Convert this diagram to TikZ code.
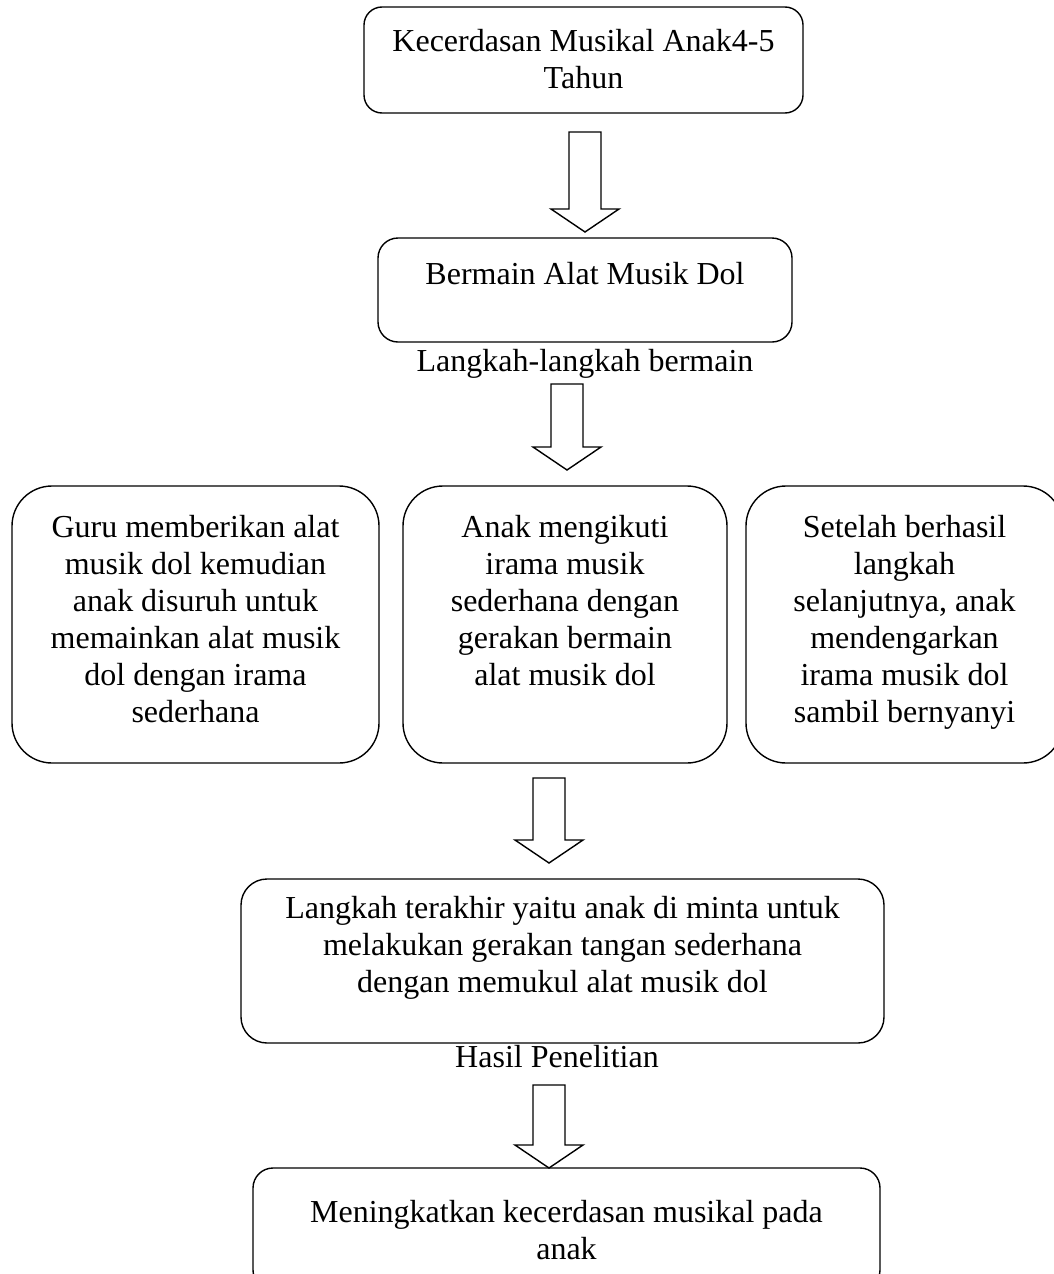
\documentclass[tikz,border=0pt]{standalone}
\usepackage{fontspec}
\setmainfont{Liberation Serif}
\usetikzlibrary{calc}
\newcommand{\isi}[3]{\parbox[c][#1][t]{#2}{\centering\strut #3}}
\newcommand{\panah}[2]{%
  \draw[garis] let \p1=(#1), \p2=(#2) in
    (\x1-16pt,\y1) -- (\x1+16pt,\y1) -- (\x1+16pt,\y2+23pt) -- (\x1+34pt,\y2+23pt)
    -- (\x2,\y2) -- (\x1-34pt,\y2+23pt) -- (\x1-16pt,\y2+23pt) -- cycle;}
\begin{document}
\begin{tikzpicture}[x=1pt,y=-1pt,
	kotak/.style={draw,line width=1.4pt,inner sep=0pt,font=\fontsize{32}{37}\selectfont},
	teks/.style={inner sep=0pt,font=\fontsize{32}{37}\selectfont},
	garis/.style={line width=1.4pt,line join=miter}]
\useasboundingbox (0,0) rectangle (1054,1274);
\node[kotak,rounded corners=18pt,minimum width=439pt,minimum height=106pt] (judul) at (583.5,60)
	{\isi{68pt}{430pt}{Kecerdasan Musikal Anak4-5\\Tahun}};
\node[kotak,rounded corners=20pt,minimum width=414pt,minimum height=104pt] (bermain) at (585,290)
	{\isi{62pt}{400pt}{Bermain Alat Musik Dol}};
\node[teks] (langkah) at (585,364) {Langkah-langkah bermain};
\node[kotak,rounded corners=40pt,minimum width=367pt,minimum height=277pt] (guru) at (195.5,624.5)
	{\isi{225pt}{350pt}{Guru memberikan alat\\musik dol kemudian\\anak disuruh untuk\\memainkan alat musik\\dol dengan irama\\sederhana}};
\node[kotak,rounded corners=40pt,minimum width=324pt,minimum height=277pt] (anak) at (565,624.5)
	{\isi{225pt}{310pt}{Anak mengikuti\\irama musik\\sederhana dengan\\gerakan bermain\\alat musik dol}};
\node[kotak,rounded corners=40pt,minimum width=317pt,minimum height=277pt] (setelah) at (904.5,624.5)
	{\isi{225pt}{300pt}{Setelah berhasil\\langkah\\selanjutnya, anak\\mendengarkan\\irama musik dol\\sambil bernyanyi}};
\node[kotak,rounded corners=26pt,minimum width=643pt,minimum height=164pt] (terakhir) at (562.5,961)
	{\isi{136pt}{630pt}{Langkah terakhir yaitu anak di minta untuk\\melakukan gerakan tangan sederhana\\dengan memukul alat musik dol}};
\node[teks] (hasil) at (557,1057) {Hasil Penelitian};
\node[kotak,rounded corners=20pt,minimum width=627pt,minimum height=122pt] (meningkat) at (566.5,1229)
	{\isi{64pt}{610pt}{Meningkatkan kecerdasan musikal pada\\anak}};
% panah blok
\coordinate (p1) at (585,132); \coordinate (u1) at (585,232);
\coordinate (p2) at (567,384); \coordinate (u2) at (567,470);
\coordinate (p3) at (549,778); \coordinate (u3) at (549,863);
\coordinate (p4) at (549,1085); \coordinate (u4) at (549,1168);
\foreach \i in {1,...,4} {\panah{p\i}{u\i}}
\end{tikzpicture}
\end{document}
